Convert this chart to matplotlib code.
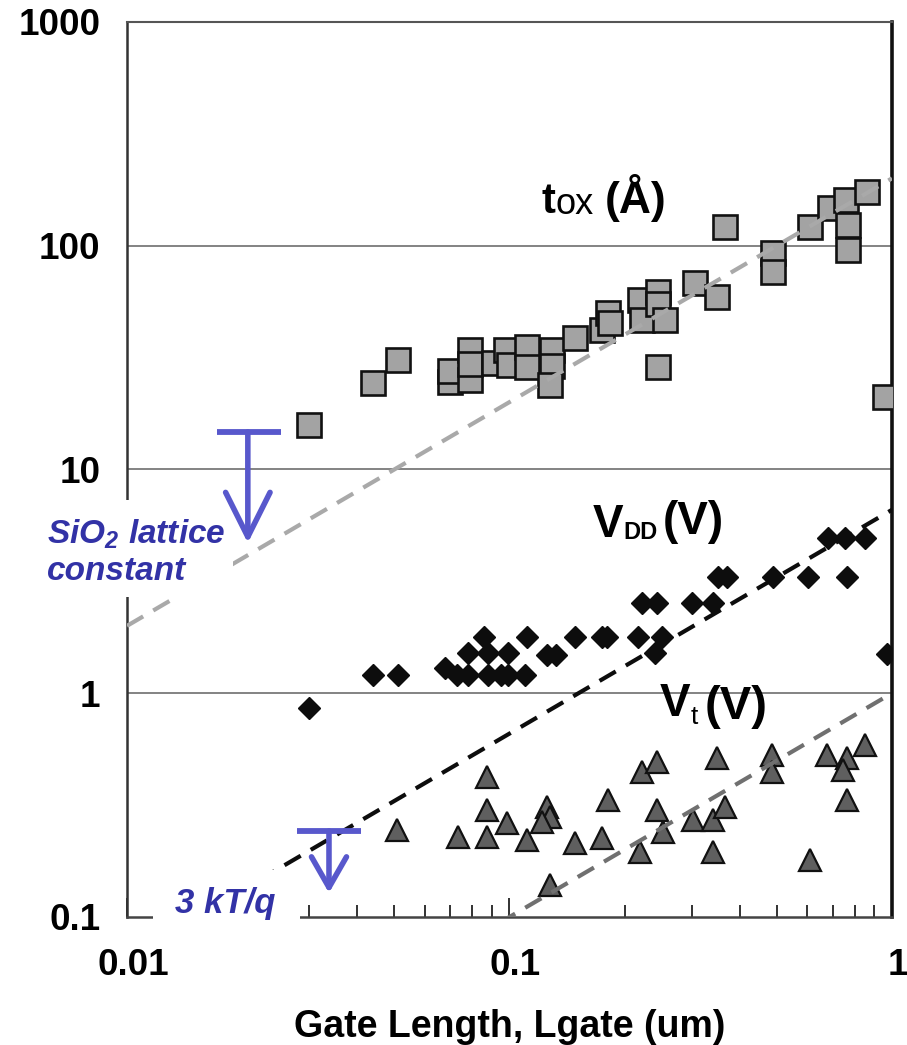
import matplotlib
matplotlib.use("Agg")
import matplotlib.pyplot as plt
import matplotlib.transforms as mtransforms
from matplotlib.patches import Rectangle
from matplotlib.ticker import FixedLocator, FixedFormatter, LogLocator, NullFormatter

plt.rcParams['font.family'] = ['Liberation Sans', 'DejaVu Sans']

# ---- data: gate length (um) vs. oxide thickness, supply and threshold voltage ----
L_tox = [0.030, 0.044, 0.051, 0.070, 0.070, 0.079, 0.079, 0.079, 0.091, 0.098,
         0.100, 0.111, 0.111, 0.129, 0.129, 0.128, 0.148, 0.175, 0.181, 0.183,
         0.219, 0.222, 0.244, 0.244, 0.244, 0.255, 0.305, 0.349, 0.366, 0.489,
         0.489, 0.610, 0.690, 0.760, 0.860, 0.767, 0.767, 0.960]
tox = [15.8, 24.4, 31.0, 24.6, 27.5, 34.2, 25.1, 29.5, 29.9, 34.2,
       29.3, 35.3, 28.7, 34.2, 29.0, 23.9, 38.7, 42.0, 50.0, 45.2,
       57.2, 46.6, 62.1, 55.0, 28.7, 46.6, 68.2, 59.0, 121, 92.9,
       76.4, 121, 147.5, 160, 174, 124, 95.7, 21.1]

L_vdd = [0.030, 0.044, 0.051, 0.068, 0.073, 0.078, 0.078, 0.086, 0.088, 0.088,
         0.095, 0.099, 0.099, 0.110, 0.111, 0.125, 0.132, 0.148, 0.175, 0.180,
         0.217, 0.251, 0.240, 0.222, 0.243, 0.300, 0.340, 0.351, 0.371, 0.489,
         0.602, 0.762, 0.681, 0.754, 0.850, 0.970]
vdd = [0.86, 1.21, 1.21, 1.30, 1.21, 1.21, 1.51, 1.78, 1.51, 1.21,
       1.21, 1.51, 1.21, 1.21, 1.78, 1.48, 1.48, 1.78, 1.78, 1.78,
       1.78, 1.78, 1.51, 2.53, 2.53, 2.53, 2.53, 3.31, 3.31, 3.31,
       3.31, 3.31, 4.94, 4.94, 4.94, 1.50]

L_vt = [0.0508, 0.0733, 0.0873, 0.0873, 0.0873, 0.0985, 0.111, 0.125, 0.128, 0.122,
        0.128, 0.148, 0.175, 0.181, 0.222, 0.243, 0.243, 0.252, 0.219, 0.302,
        0.340, 0.366, 0.340, 0.349, 0.485, 0.485, 0.610, 0.676, 0.762, 0.745,
        0.850, 0.762]
vt = [0.245, 0.228, 0.423, 0.301, 0.228, 0.263, 0.221, 0.310, 0.280, 0.266,
      0.139, 0.214, 0.225, 0.333, 0.445, 0.493, 0.301, 0.240, 0.195, 0.272,
      0.272, 0.310, 0.195, 0.514, 0.530, 0.445, 0.180, 0.530, 0.514, 0.454,
      0.587, 0.333]

# trend lines (proportional scaling), end points at L = 0.01 and 1 um
trend_L = [0.01, 1.0]
tox_trend = [2.0, 200.0]
vdd_trend = [0.066, 6.6]
vt_trend = [0.01, 1.0]

# physical limits marked with arrows
sio2_limit = 14.7          # Angstrom
sio2_span = [0.01719, 0.02527]
sio2_x = 0.0207
sio2_tip = 4.69
kTq_limit = 0.2423         # V
kTq_span = [0.02782, 0.04090]
kTq_x = 0.03374
kTq_tip = 0.128

x_ticks = [0.01, 0.1, 1]
x_labels = ['0.01', '0.1', '1']
y_ticks = [0.1, 1, 10, 100, 1000]
y_labels = ['0.1', '1', '10', '100', '1000']

BLUE_ARROW = '#5858cc'
BLUE_TEXT = '#3232a6'

fig = plt.figure(figsize=(9.07, 10.45), dpi=100)
ax = fig.add_axes([0.1400, 0.1225, 0.8434, 0.8565])
ax.set_xscale('log')
ax.set_yscale('log')
ax.set_xlim(0.01, 1)
ax.set_ylim(0.1, 1000)

# horizontal grid
for yv in y_ticks[1:-1]:
    ax.axhline(yv, color='#7a7a7a', lw=1.3, zorder=1)

# data
ax.plot(L_tox, tox, ls='none', marker='s', ms=17.5, mfc='#a3a3a3', mec='#111111',
        mew=1.9, zorder=3)
ax.plot(L_vdd, vdd, ls='none', marker='D', ms=11.5, mfc='#0d0d0d', mec='#0d0d0d',
        mew=1.0, zorder=3)
ax.plot(L_vt, vt, ls='none', marker='^', ms=15.5, mfc='#5f5f5f', mec='#111111',
        mew=1.6, zorder=3)

# trend lines
ax.plot(trend_L, tox_trend, color='#a9a9a9', lw=3.0, dashes=(4.5, 2.8), zorder=4)
ax.plot(trend_L, vdd_trend, color='#0d0d0d', lw=3.0, dashes=(4.5, 2.8), zorder=4)
ax.plot(trend_L, vt_trend, color='#707070', lw=3.0, dashes=(4.5, 2.8), zorder=4)

# axes styling
ax.xaxis.set_major_locator(FixedLocator(x_ticks))
ax.xaxis.set_major_formatter(FixedFormatter(x_labels))
ax.xaxis.set_minor_locator(LogLocator(base=10, subs=range(2, 10)))
ax.xaxis.set_minor_formatter(NullFormatter())
ax.yaxis.set_major_locator(FixedLocator(y_ticks))
ax.yaxis.set_major_formatter(FixedFormatter(y_labels))
ax.yaxis.set_minor_locator(FixedLocator([]))
ax.tick_params(axis='x', which='major', direction='in', length=14, width=1.3,
               color='#222222', pad=22, labelsize=26.5)
ax.tick_params(axis='x', which='minor', direction='in', length=9, width=1.3,
               color='#222222')
ax.tick_params(axis='y', which='major', length=0, pad=19, labelsize=26.5)
shift = mtransforms.ScaledTranslation(6 / 100, 0, fig.dpi_scale_trans)
for lbl in ax.xaxis.get_majorticklabels():
    lbl.set_fontweight('bold')
    lbl.set_transform(lbl.get_transform() + shift)
for lbl in ax.yaxis.get_majorticklabels():
    lbl.set_fontweight('bold')

ax.spines['left'].set_linewidth(1.8)
ax.spines['left'].set_color('#333333')
ax.spines['bottom'].set_linewidth(1.8)
ax.spines['bottom'].set_color('#444444')
ax.spines['top'].set_linewidth(1.5)
ax.spines['top'].set_color('#555555')
ax.spines['right'].set_linewidth(2.6)
ax.spines['right'].set_color('#111111')

ax.set_xlabel('Gate Length, Lgate (um)', fontsize=27, fontweight='bold')
ax.xaxis.label.set_va('baseline')
ax.xaxis.set_label_coords(0.5, -0.134)


def label_run(x, y, parts):
    """Write consecutive text pieces of mixed size/weight along one baseline."""
    prev = None
    for text, size, weight, dx, dy in parts:
        if prev is None:
            prev = ax.text(x, y, text, fontsize=size, fontweight=weight,
                           ha='left', va='baseline', zorder=6)
        else:
            prev = ax.annotate(text, xy=(1, 0), xycoords=prev,
                               xytext=(dx, dy), textcoords='offset points',
                               fontsize=size, fontweight=weight,
                               ha='left', va='bottom', zorder=6)
    return prev


label_run(0.1216, 140, [('t', 30, 'bold', 0, 0),
                         ('ox', 26, 'normal', 0, 0),
                         ('(Å)', 32, 'bold', 8, 0)])
label_run(0.165, 4.99, [('V', 33, 'bold', 0, 0),
                        ('DD', 17, 'bold', 0, 2),
                        ('(V)', 33, 'bold', 4, 0)])
label_run(0.2473, 0.791, [('V', 33, 'bold', 0, 0),
                          ('t', 19, 'normal', 0, -2),
                          ('(V)', 34, 'bold', 5, 0)])

# white boxes behind the annotation texts
ax.add_patch(Rectangle((-0.1333, 0.3575), 0.2719, 0.1084, transform=ax.transAxes,
                       fc='white', ec='none', clip_on=False, zorder=8))
ax.add_patch(Rectangle((0.034, -0.0179), 0.1922, 0.0704, transform=ax.transAxes,
                       fc='white', ec='none', clip_on=False, zorder=8))

ax.text(-0.1046, 0.4179, r'SiO$_\mathregular{2}$ lattice', transform=ax.transAxes,
        fontsize=24, fontweight='bold', fontstyle='italic', color=BLUE_TEXT,
        ha='left', va='baseline', zorder=9, clip_on=False)
ax.text(-0.1046, 0.3765, 'constant', transform=ax.transAxes,
        fontsize=24, fontweight='bold', fontstyle='italic', color=BLUE_TEXT,
        ha='left', va='baseline', zorder=9, clip_on=False)
ax.text(0.0627, 0.0045, '3 kT/q', transform=ax.transAxes,
        fontsize=25, fontweight='bold', fontstyle='italic', color=BLUE_TEXT,
        ha='left', va='baseline', zorder=9, clip_on=False)

# limit markers: horizontal bar with a downward arrow
ax.hlines(sio2_limit, sio2_span[0], sio2_span[1], color=BLUE_ARROW, lw=4.2, zorder=10)
ax.annotate('', xy=(sio2_x, sio2_tip), xytext=(sio2_x, sio2_limit),
            arrowprops=dict(arrowstyle='->,head_length=1.6,head_width=0.8',
                            lw=4.0, color=BLUE_ARROW, mutation_scale=20,
                            shrinkA=0, shrinkB=0), zorder=10)
ax.hlines(kTq_limit, kTq_span[0], kTq_span[1], color=BLUE_ARROW, lw=4.2, zorder=10)
ax.annotate('', xy=(kTq_x, kTq_tip), xytext=(kTq_x, kTq_limit),
            arrowprops=dict(arrowstyle='->,head_length=1.1,head_width=0.63',
                            lw=4.0, color=BLUE_ARROW, mutation_scale=20,
                            shrinkA=0, shrinkB=0), zorder=10)

fig.savefig('out.png', dpi=100, facecolor='white')
